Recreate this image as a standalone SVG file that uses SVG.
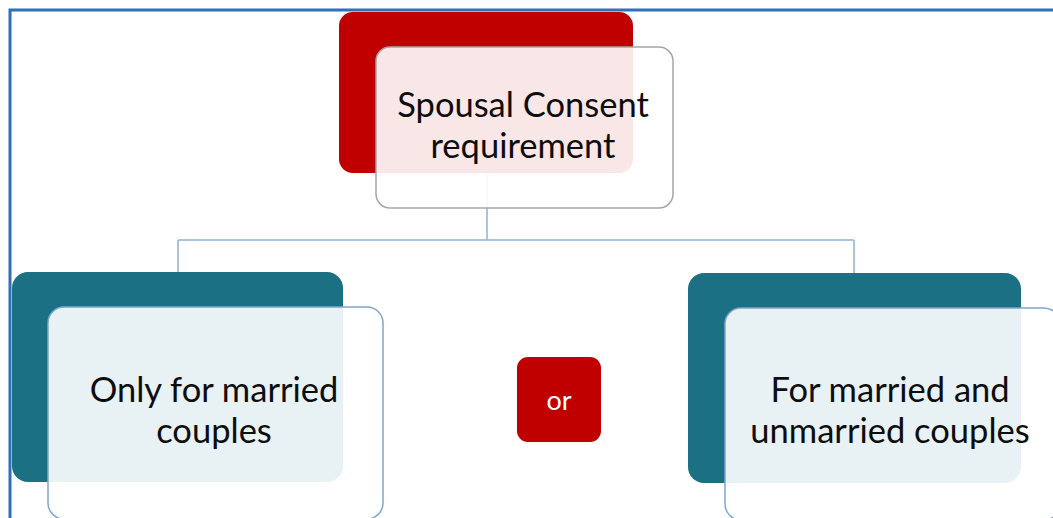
<svg xmlns="http://www.w3.org/2000/svg" width="1053" height="518" viewBox="0 0 1053 518">
  <style>
    .frame { fill: none; stroke: #2e6fb5; stroke-width: 3; }
    .back-red { fill: #c00000; }
    .back-teal { fill: #1b7083; }
    .front-top { fill: #ffffff; fill-opacity: 0.9; stroke: #a6a6a6; stroke-width: 1.5; }
    .front-side { fill: #ffffff; fill-opacity: 0.9; stroke: #7fa7cc; stroke-width: 1.5; }
    .link { fill: none; stroke: #8eb3d6; stroke-width: 1.5; }
    .label { font-family: Lato, "Liberation Sans", sans-serif; font-size: 34.5px; fill: #0d0d0d; text-anchor: middle; }
    .or-box { fill: #c00000; }
    .or-text { font-family: Lato, "Liberation Sans", sans-serif; font-size: 27px; fill: #ffffff; text-anchor: middle; }
  </style>

  <!-- page frame: top and left edges -->
  <path class="frame" d="M10 518 V10 H1053"/>

  <!-- connectors -->
  <g id="connectors">
    <path class="link" d="M487 173 V240 M178 240 H854 M178 240 V272 M854 240 V273"/>
  </g>

  <g id="node-root">
    <rect class="back-red" x="339" y="12" width="294" height="161" rx="14"/>
    <rect class="front-top" x="376" y="47" width="297" height="161" rx="14"/>
    <text class="label" x="523" y="117">Spousal Consent</text>
    <text class="label" x="523" y="158">requirement</text>
  </g>

  <g id="node-married">
    <rect class="back-teal" x="12" y="272" width="331" height="210" rx="16"/>
    <rect class="front-side" x="48" y="307" width="335" height="212" rx="16"/>
    <text class="label" x="214" y="402">Only for married</text>
    <text class="label" x="214" y="443">couples</text>
  </g>

  <g id="node-or">
    <rect class="or-box" x="517" y="357" width="84" height="85" rx="11"/>
    <text class="or-text" x="559" y="410">or</text>
  </g>

  <g id="node-both">
    <rect class="back-teal" x="688" y="273" width="333" height="210" rx="16"/>
    <rect class="front-side" x="725" y="308" width="335" height="212" rx="16"/>
    <text class="label" x="890" y="402">For married and</text>
    <text class="label" x="890" y="443">unmarried couples</text>
  </g>
</svg>
